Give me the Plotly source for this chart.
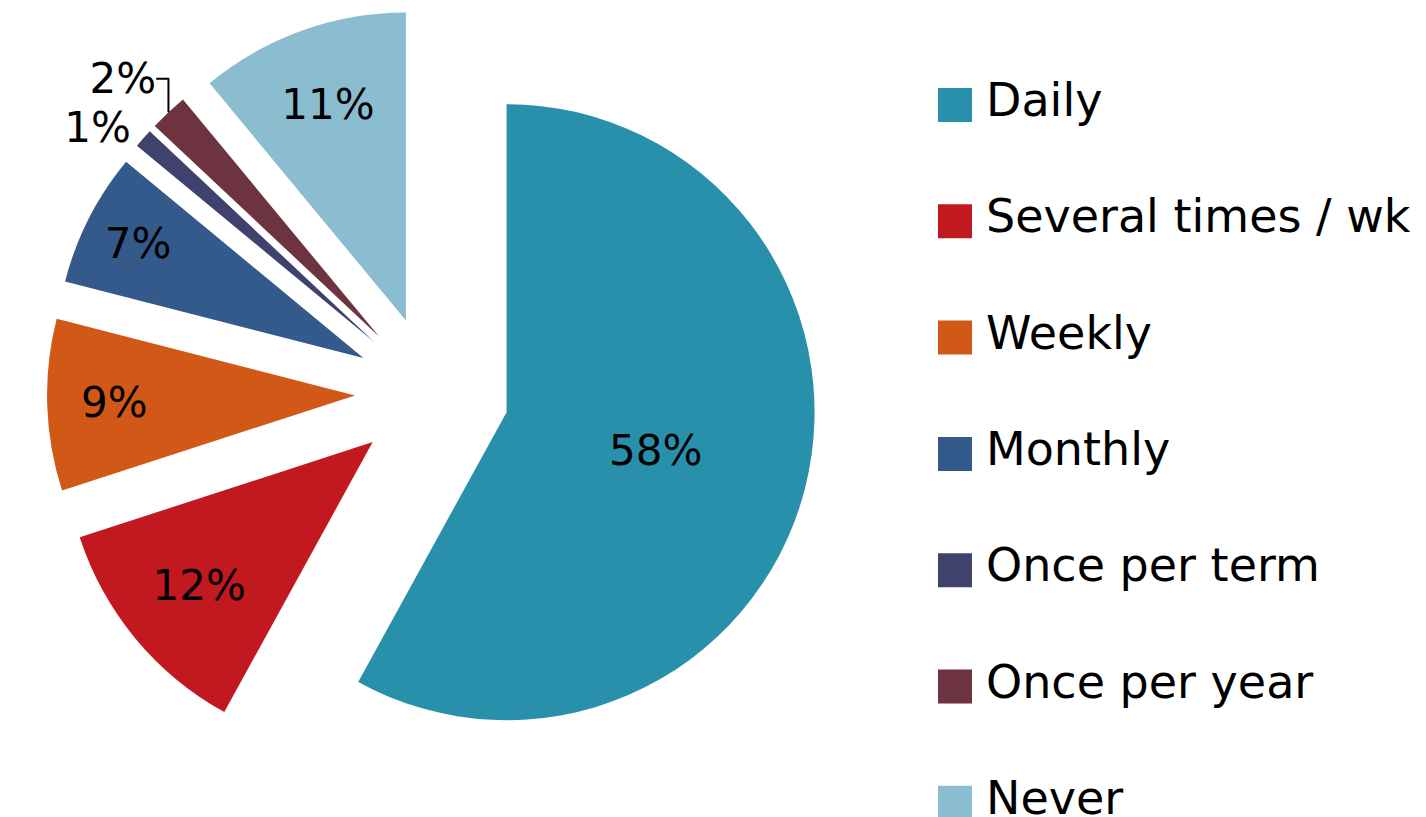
import plotly.graph_objects as go

labels = ["Daily", "Several times / wk", "Weekly", "Monthly",
          "Once per term", "Once per year", "Never"]
values = [58, 12, 9, 7, 1, 2, 11]
colors = ["#2990AB", "#C1191F", "#D15817", "#335A8A",
          "#3E426D", "#6D3341", "#8BBDD0"]
text_pos = ["inside", "inside", "inside", "inside", "outside", "outside", "inside"]

# page body has an 8px margin, so the figure is sized to fit the window
W, H = 1418, 809
FONT = "DejaVu Sans"

fig = go.Figure()
fig.add_trace(go.Pie(
    labels=labels,
    values=values,
    marker=dict(colors=colors, line=dict(width=0)),
    pull=[0.25] * len(values),
    sort=False,
    direction="clockwise",
    rotation=0,
    texttemplate="%{percent:.0%}",
    textposition=text_pos,
    insidetextorientation="horizontal",
    textfont=dict(family=FONT, size=42, color="black"),
    domain=dict(x=[39 / W, 809 / W], y=[1 - 770 / H, 1]),
    showlegend=False,
    automargin=False,
    hoverinfo="label+percent",
))

# legend drawn by hand so the swatches can be as large as in the original
row0, step = 92, 116.3
for i, (lab, col) in enumerate(zip(labels, colors)):
    yc = row0 + i * step
    fig.add_shape(type="rect", xref="paper", yref="paper",
                  x0=930 / W, x1=964 / W,
                  y0=1 - (yc + 22) / H, y1=1 - (yc - 12) / H,
                  fillcolor=col, line=dict(width=0))
    fig.add_annotation(x=976 / W, y=1 - yc / H, xref="paper", yref="paper",
                       text=lab, showarrow=False, xanchor="left", yanchor="middle",
                       font=dict(family=FONT, size=46, color="black"))

fig.update_layout(
    width=W, height=H,
    margin=dict(l=0, r=0, t=0, b=0, autoexpand=False),
    paper_bgcolor="white",
    plot_bgcolor="white",
)
fig.write_html("out.html")
